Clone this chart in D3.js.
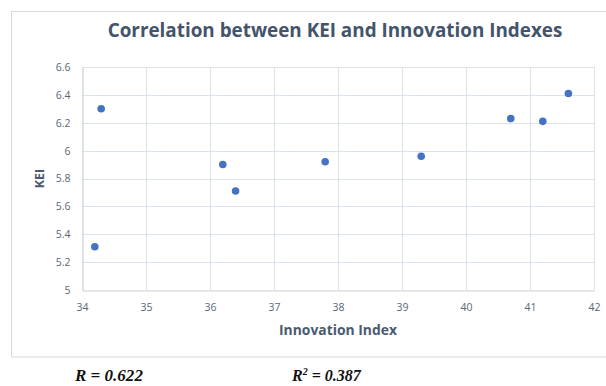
<!DOCTYPE html>
<html>
<head>
<meta charset="utf-8">
<script src="https://cdn.jsdelivr.net/npm/d3@7"></script>
<style>
  html, body { margin: 0; padding: 0; background: #fff; }
  svg { display: block; }
</style>
</head>
<body>
<svg id="chart" width="606" height="386"></svg>
<script>
// Innovation Index (x) vs Knowledge Economy Index (y)
const innovationIndex = [34.2, 34.3, 36.2, 36.4, 37.8, 39.3, 40.7, 41.2, 41.6];
const keiValues      = [5.31, 6.30, 5.90, 5.71, 5.92, 5.96, 6.23, 6.21, 6.41];
const xTicks = [34, 35, 36, 37, 38, 39, 40, 41, 42];
const yTicks = [5, 5.2, 5.4, 5.6, 5.8, 6, 6.2, 6.4, 6.6];
const chartTitle = "Correlation between KEI and Innovation Indexes";
const xTitle = "Innovation Index";
const yTitle = "KEI";
const rText = "0.622";
const r2Text = "0.387";

const svg = d3.select("#chart");
const font = "Open Sans, Lato, sans-serif";
const plot = { left: 82, right: 594, top: 67, bottom: 290 };

const x = d3.scaleLinear().domain([34, 42]).range([plot.left, plot.right]);
const y = d3.scaleLinear().domain([5, 6.6]).range([plot.bottom, plot.top]);

// Fit a text element to a target width by adjusting font size
function fitWidth(sel, target) {
  const node = sel.node();
  const fs = parseFloat(sel.attr("font-size"));
  const w = node.getComputedTextLength();
  if (w > 0) sel.attr("font-size", (fs * target / w).toFixed(2));
}

// chart frame (right edge runs off the canvas)
svg.append("rect")
  .attr("x", 11.5).attr("y", 11.5)
  .attr("width", 610).attr("height", 345.5)
  .attr("fill", "#fff").attr("stroke", "#d9d9d9").attr("stroke-width", 1);

// gridlines
svg.append("g").selectAll("line.v").data(xTicks.slice(1)).join("line")
  .attr("x1", d => Math.round(x(d)) + 0.5).attr("x2", d => Math.round(x(d)) + 0.5)
  .attr("y1", plot.top).attr("y2", plot.bottom)
  .attr("stroke", "#dde3ea").attr("stroke-width", 1);
svg.append("g").selectAll("line.h").data(yTicks.slice(1)).join("line")
  .attr("x1", plot.left).attr("x2", plot.right)
  .attr("y1", d => Math.round(y(d)) + 0.5).attr("y2", d => Math.round(y(d)) + 0.5)
  .attr("stroke", "#dde3ea").attr("stroke-width", 1);

// axes
const xAxis = svg.append("g")
  .attr("transform", `translate(0,${plot.bottom + 0.5})`)
  .call(d3.axisBottom(x).tickValues(xTicks).tickSize(0).tickPadding(13).tickFormat(d3.format("d")));
const yAxis = svg.append("g")
  .attr("transform", `translate(${plot.left + 0.5},0)`)
  .call(d3.axisLeft(y).tickValues(yTicks).tickSize(0).tickPadding(12).tickFormat(d => d3.format("")(+d.toFixed(1))));
[xAxis, yAxis].forEach(a => {
  a.select(".domain").attr("stroke", "#c8d0da").attr("stroke-width", 1.2);
  a.selectAll("text").attr("fill", "#5a6677").attr("font-family", font).attr("font-size", 10.5);
});

// points
svg.append("g").selectAll("circle").data(innovationIndex.map((v, i) => [v, keiValues[i]])).join("circle")
  .attr("cx", d => x(d[0])).attr("cy", d => y(d[1]))
  .attr("r", 3.8).attr("fill", "#4472C4");

// titles
const t = svg.append("text")
  .attr("x", 335).attr("y", 37).attr("text-anchor", "middle")
  .attr("font-family", font).attr("font-weight", "bold").attr("font-size", 18)
  .attr("fill", "#44546A").text(chartTitle);
fitWidth(t, 455);

const xt = svg.append("text")
  .attr("x", 338).attr("y", 335).attr("text-anchor", "middle")
  .attr("font-family", font).attr("font-weight", "bold").attr("font-size", 13)
  .attr("fill", "#4a5a70").text(xTitle);
fitWidth(xt, 118);

const yt = svg.append("text")
  .attr("transform", `translate(44,${(plot.top + plot.bottom) / 2}) rotate(-90)`)
  .attr("text-anchor", "middle")
  .attr("font-family", font).attr("font-weight", "bold").attr("font-size", 12.5)
  .attr("fill", "#4a5a70").text(yTitle);

// correlation statistics
const serif = "Liberation Serif, Times New Roman, serif";
const r = svg.append("text")
  .attr("x", 75).attr("y", 381)
  .attr("font-family", serif).attr("font-weight", "bold").attr("font-style", "italic")
  .attr("font-size", 16).attr("fill", "#111");
r.append("tspan").text("R = " + rText);
fitWidth(r, 68);

const r2 = svg.append("text")
  .attr("x", 292).attr("y", 381)
  .attr("font-family", serif).attr("font-weight", "bold").attr("font-style", "italic")
  .attr("font-size", 16).attr("fill", "#111");
r2.append("tspan").text("R");
r2.append("tspan").attr("dy", -6).attr("font-size", 10).text("2");
r2.append("tspan").attr("dy", 6).text(" = " + r2Text);
</script>
</body>
</html>
